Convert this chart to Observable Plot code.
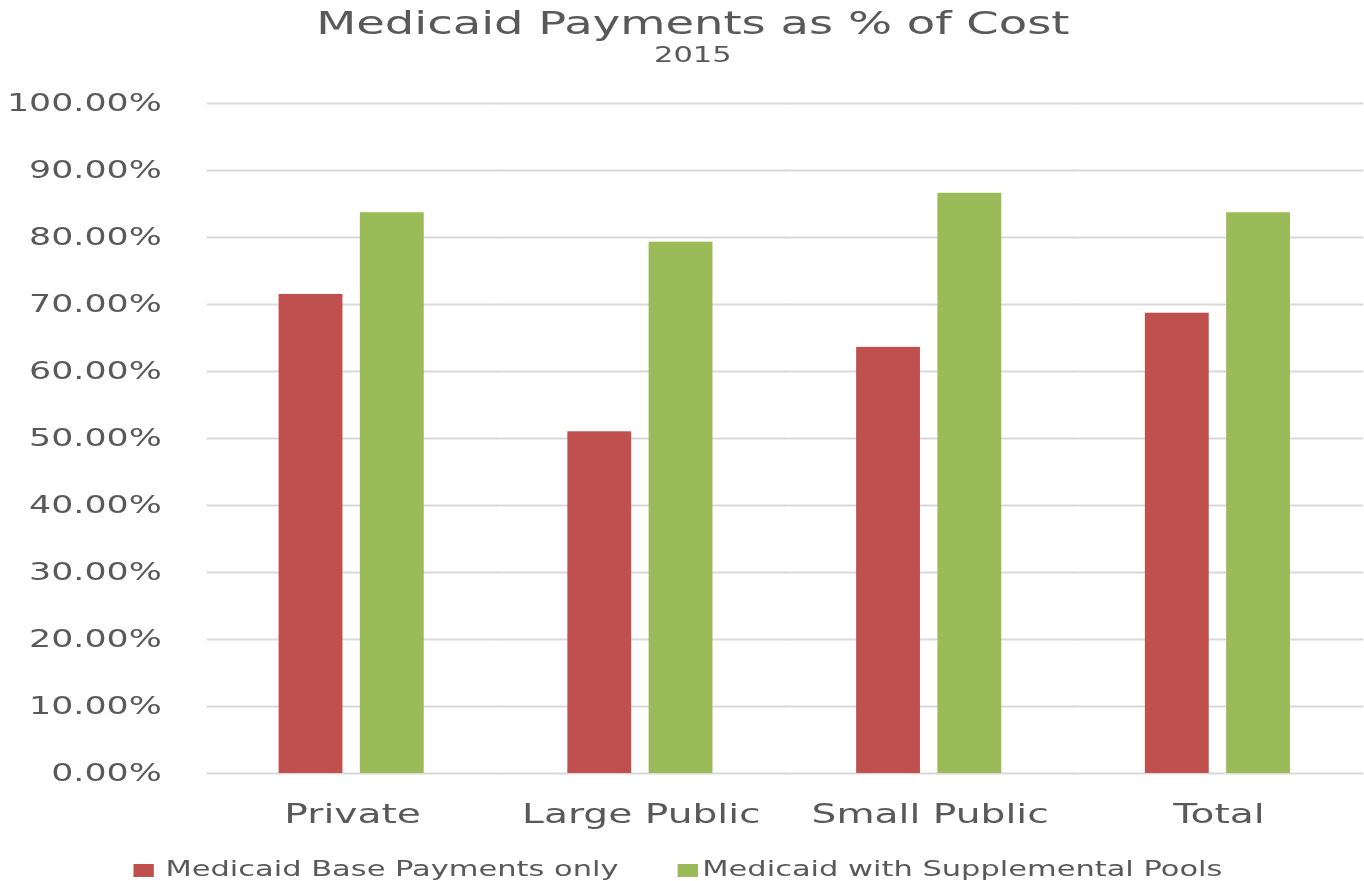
<!DOCTYPE html>
<html>
<head>
<meta charset="utf-8">
<script src="https://cdn.jsdelivr.net/npm/d3@7"></script>
<script src="https://cdn.jsdelivr.net/npm/@observablehq/plot@0.6"></script>
<style>
  html, body { margin: 0; padding: 0; background: #fff; }
  body { overflow: hidden; }
  #wrap {
    width: 940px;
    transform: scaleX(1.45106);
    transform-origin: 0 0;
    font-family: "DejaVu Sans", sans-serif;
    color: #595959;
  }
  #header { height: 70px; text-align: center; padding-left: 15px; box-sizing: border-box; }
  #title { padding-top: 4px; font-size: 32px; line-height: 38px; }
  #subtitle { padding-top: 2px; font-size: 21px; line-height: 23px; }
  #chart svg { display: block; overflow: visible; }
  #legend { position: relative; height: 46px; }
  .sw { position: absolute; top: 29px; width: 14px; height: 13px; }
  .lt { position: absolute; top: 24px; font-size: 21px; line-height: 21px; white-space: nowrap; }
</style>
</head>
<body>
<div id="wrap">
  <div id="header">
    <div id="title">Medicaid Payments as % of Cost</div>
    <div id="subtitle">2015</div>
  </div>
  <div id="chart"></div>
  <div id="legend"></div>
</div>
<script>
const categories = ["Private", "Large Public", "Small Public", "Total"];
const seriesNames = ["Medicaid Base Payments only", "Medicaid with Supplemental Pools"];
const baseValues = [0.715, 0.510, 0.636, 0.687];
const supplementalValues = [0.837, 0.793, 0.866, 0.837];
const yTicks = [0, 0.1, 0.2, 0.3, 0.4, 0.5, 0.6, 0.7, 0.8, 0.9, 1.0];
const seriesColors = ["#c0504d", "#9bbb59"];

const data = categories.flatMap((c, i) => [
  {category: c, series: seriesNames[0], value: baseValues[i]},
  {category: c, series: seriesNames[1], value: supplementalValues[i]}
]);

const chart = Plot.plot({
  width: 940,
  height: 765,
  marginTop: 33,
  marginBottom: 62,
  marginLeft: 141,
  marginRight: 0,
  style: {fontFamily: "DejaVu Sans", color: "#595959", background: "white", overflow: "visible"},
  fx: {domain: categories, paddingInner: 0.493, paddingOuter: 0.2465, label: null},
  x: {domain: seriesNames, paddingInner: 0.207, paddingOuter: 0, axis: null},
  y: {domain: [0, 1], label: null},
  color: {domain: seriesNames, range: seriesColors},
  marks: [
    Plot.ruleY(yTicks, {stroke: "#d9d9d9", strokeWidth: 2, insetLeft: -49.5, insetRight: -49.5}),
    Plot.barY(data, {fx: "category", x: "series", y: "value", fill: "series"}),
    Plot.axisY(yTicks, {tickFormat: d3.format(".2%"), tickSize: 0, tickPadding: 81, fontSize: 24, label: null}),
    Plot.axisFx({anchor: "bottom", tickSize: 0, tickPadding: 30, fontSize: 27, label: null})
  ]
});
document.getElementById("chart").appendChild(chart);

const legend = document.getElementById("legend");
const swatchLeft = [92, 466.5];
const textLeft = [114, 484];
seriesNames.forEach((name, i) => {
  const sw = document.createElement("div");
  sw.className = "sw";
  sw.style.left = swatchLeft[i] + "px";
  sw.style.background = seriesColors[i];
  legend.appendChild(sw);
  const t = document.createElement("div");
  t.className = "lt";
  t.style.left = textLeft[i] + "px";
  t.textContent = name;
  legend.appendChild(t);
});
</script>
</body>
</html>
